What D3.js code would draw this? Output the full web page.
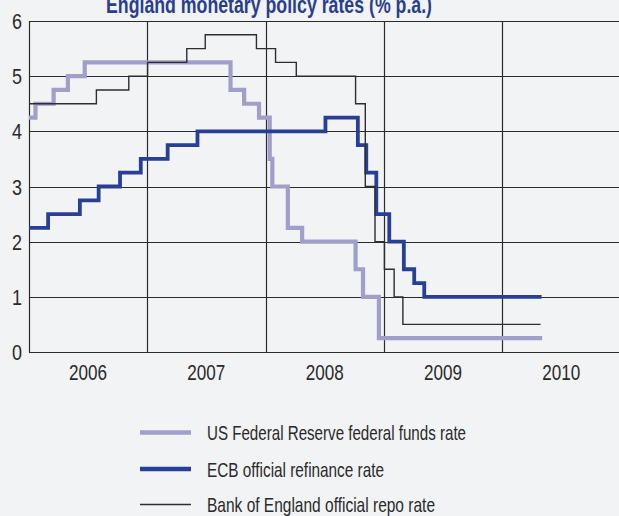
<!DOCTYPE html>
<html><head><meta charset="utf-8">
<script src="https://cdn.jsdelivr.net/npm/d3@7"></script>
<style>
html,body{margin:0;padding:0;background:#f2f3f5;}
svg{display:block;}
text{font-family:"Liberation Sans",Arial,sans-serif;}
</style></head>
<body>
<svg id="c" width="619" height="516"></svg>
<script>
const title = "England monetary policy rates (% p.a.)";
const yTicks = [0,1,2,3,4,5,6];
const yearLabels = ["2006","2007","2008","2009","2010"];
const seriesNames = ["US Federal Reserve federal funds rate","ECB official refinance rate","Bank of England official repo rate"];

const fedDates = ["2006-01-01","2006-01-21","2006-03-18","2006-05-01","2006-06-22","2007-09-15","2007-10-27","2007-12-12","2008-01-14","2008-01-22","2008-03-10","2008-04-23","2008-10-05","2008-10-28","2008-12-16","2010-05-04"];
const fedValues = [4.25,4.5,4.75,5.0,5.25,4.75,4.5,4.25,3.5,3.0,2.25,2.0,1.5,1.0,0.25,0.25];

const ecbDates = ["2006-01-01","2006-03-01","2006-06-07","2006-08-04","2006-10-09","2006-12-12","2007-03-05","2007-06-05","2008-07-04","2008-10-12","2008-11-07","2008-12-08","2009-01-17","2009-03-03","2009-04-04","2009-05-05","2010-05-02"];
const ecbValues = [2.25,2.5,2.75,3.0,3.25,3.5,3.75,4.0,4.25,3.75,3.25,2.5,2.0,1.5,1.25,1.0,1.0];

const boeDates = ["2006-01-01","2006-07-28","2006-11-05","2007-01-02","2007-05-03","2007-06-29","2007-12-04","2008-02-01","2008-04-05","2008-10-05","2008-11-04","2008-12-04","2009-01-02","2009-02-01","2009-02-28","2010-04-29"];
const boeValues = [4.5,4.75,5.0,5.25,5.5,5.75,5.5,5.25,5.0,4.5,3.0,2.0,1.5,1.0,0.5,0.5];

const parse = d3.timeParse("%Y-%m-%d");
const svg = d3.select("#c");
const L = 29, R = 620.6, T = 21, B = 352;
const x = d3.scaleTime().domain([new Date(2006,0,1), new Date(2011,0,1)]).range([L, R]);
const y = d3.scaleLinear().domain([0,6]).range([B, T]);
const grid = "#2b2b2b";

svg.append("g").selectAll("line").data(yTicks).join("line")
  .attr("x1", L).attr("x2", 619)
  .attr("y1", d => Math.round(y(d)) + 0.5).attr("y2", d => Math.round(y(d)) + 0.5)
  .attr("stroke", grid).attr("stroke-width", 1.2);
const yearStarts = yearLabels.map(s => new Date(+s, 0, 1));
svg.append("g").selectAll("line").data(yearStarts.concat([new Date(2011,0,1)])).join("line")
  .attr("x1", d => Math.round(x(d)) + 0.5).attr("x2", d => Math.round(x(d)) + 0.5)
  .attr("y1", T).attr("y2", B)
  .attr("stroke", grid).attr("stroke-width", 1.2);

svg.append("g").selectAll("text").data(yTicks).join("text")
  .attr("x", 22).attr("y", d => y(d) + 8)
  .attr("text-anchor", "end").attr("font-size", 22).attr("fill", "#2a2a2a")
  .attr("textLength", 10).attr("lengthAdjust", "spacingAndGlyphs")
  .text(d => d);
svg.append("g").selectAll("text").data(yearLabels).join("text")
  .attr("x", d => x(new Date(+d, 6, 2)))
  .attr("y", 380).attr("text-anchor", "middle").attr("font-size", 22).attr("fill", "#2a2a2a")
  .attr("textLength", 38).attr("lengthAdjust", "spacingAndGlyphs")
  .text(d => d);

const line = d3.line().x(d => x(d[0])).y(d => y(d[1])).curve(d3.curveStepAfter);
const mk = (ds, vs) => ds.map((d, i) => [parse(d), vs[i]]);
const series = [
  {data: mk(fedDates, fedValues), color: "#a09fcb", w: 4.2},
  {data: mk(ecbDates, ecbValues), color: "#273f96", w: 3.8},
  {data: mk(boeDates, boeValues), color: "#2e2e2e", w: 1.4}
];
svg.append("g").selectAll("path").data(series).join("path")
  .attr("d", d => line(d.data)).attr("fill", "none")
  .attr("stroke", d => d.color).attr("stroke-width", d => d.w)
  .attr("stroke-linejoin", "miter");

svg.append("text").attr("x", 269).attr("y", 13).attr("text-anchor", "middle")
  .attr("font-size", 23).attr("font-weight", "bold").attr("fill", "#2a3e8f")
  .attr("textLength", 326).attr("lengthAdjust", "spacingAndGlyphs")
  .text(title);

const legY = [432.5, 469, 504.5];
const legW = [259, 177, 228];
const lg = svg.append("g");
lg.selectAll("line").data(series).join("line")
  .attr("x1", 140).attr("x2", 191)
  .attr("y1", (d, i) => legY[i]).attr("y2", (d, i) => legY[i])
  .attr("stroke", d => d.color).attr("stroke-width", (d, i) => i === 0 ? 4.7 : (i === 1 ? 4.3 : 1.4));
lg.selectAll("text").data(seriesNames).join("text")
  .attr("x", 207).attr("y", (d, i) => legY[i] + 7.5)
  .attr("font-size", 21).attr("fill", "#2a2a2a")
  .attr("textLength", (d, i) => legW[i]).attr("lengthAdjust", "spacingAndGlyphs")
  .text(d => d);
</script>
</body></html>
